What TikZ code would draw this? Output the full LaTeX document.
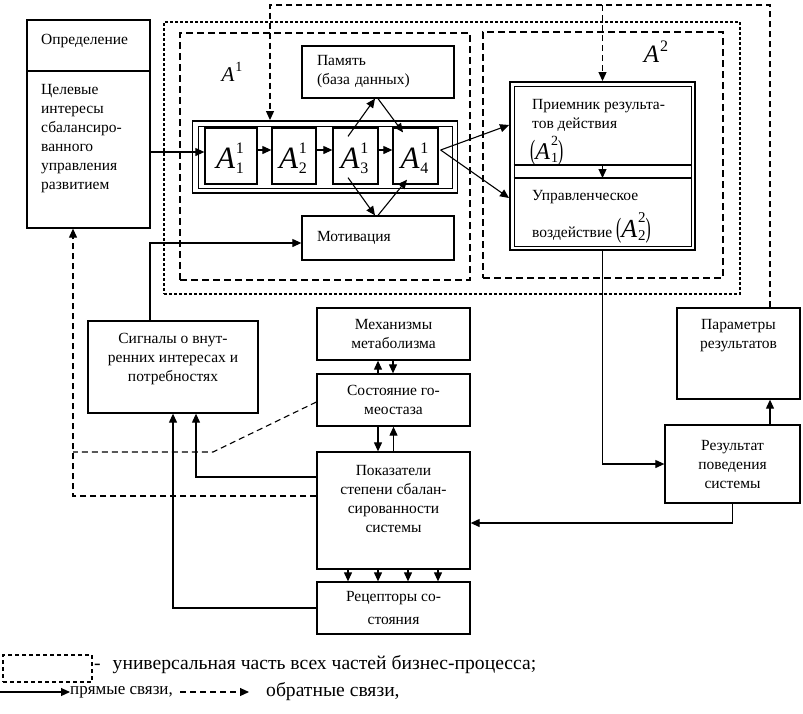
\documentclass[tikz,border=0pt]{standalone}
\usepackage{fontspec}
\usepackage{graphicx}
\setmainfont{Liberation Serif}
\usetikzlibrary{arrows.meta}

\newcommand\boxfont{\fontsize{15.5}{19}\selectfont}
\newcommand\legfont{\fontsize{19.6}{24}\selectfont}
% italic A with a stacked upper and lower index: #1 size of A, #2 size of indices
\newcommand\symA[4]{%
  {\fontsize{#1}{#1}\selectfont\itshape A}\kern1pt%
  \raisebox{-\dimexpr #1pt*14/100\relax}{\fontsize{#2}{#2}\selectfont
    \vbox{\hbox{#3}\kern\dimexpr #1pt*12/100\relax\hbox{#4}}}}
% italic A with an upper index only
\newcommand\supA[3]{%
  {\fontsize{#1}{#1}\selectfont\itshape A}\kern1pt%
  \raisebox{\dimexpr #1pt*45/100\relax}{\fontsize{#2}{#2}\selectfont #3}}
\newcommand\tallparen[1]{\scalebox{1}[1.8]{(}#1\scalebox{1}[1.8]{)}}

\tikzset{
  box/.style={draw, line width=1.3pt, inner sep=0pt, align=center, font=\boxfont},
  txt/.style={inner sep=0pt, align=center, font=\boxfont},
  frameout/.style={draw, line width=1.9pt, inner sep=0pt},
  framein/.style={draw, line width=1pt, inner sep=0pt},
  unipart/.style={draw, line width=1.2pt, dash pattern=on 3pt off 2pt, inner sep=0pt},
  subpart/.style={draw, line width=1.2pt, dash pattern=on 7pt off 4pt, inner sep=0pt},
  fwd/.style={line width=1.1pt, -{Triangle[length=9pt,width=8pt]}},
  fb/.style={line width=1.1pt, dash pattern=on 6pt off 4pt, -{Triangle[length=9pt,width=8pt]}},
  fbline/.style={line width=1.1pt, dash pattern=on 6pt off 4pt},
}

\begin{document}
\begin{tikzpicture}[x=1pt, y=-1pt]
\useasboundingbox (0,0) rectangle (803,713);

% universal part and the two sub-processes
\node[unipart, minimum width=576pt, minimum height=272pt] (uni) at (452,158) {};
\node[subpart, minimum width=290pt, minimum height=247pt] (pA1) at (325,156.5) {};
\node[subpart, minimum width=240pt, minimum height=246pt] (pA2) at (603,155) {};
\node[inner sep=0pt] (labA1) at (232,72) {\supA{21}{14}{1}};
\node[inner sep=0pt] (labA2) at (656,52) {\supA{25}{16}{2}};

% goal box
\node[box, minimum width=123pt, minimum height=51pt] (oprH) at (88.5,45.5) {};
\node[txt, anchor=west] (oprHT) at (41,41) {Определение};
\node[box, minimum width=123pt, minimum height=157pt] (oprB) at (88.5,149.5) {};
\node[txt, anchor=north west, align=left] (oprBT) at (41,84) {Целевые\\интересы\\сбалансиро-\\ванного\\управления\\развитием};

% chain A^1_1 ... A^1_4
\node[frameout, minimum width=265pt, minimum height=72pt] (a1f) at (325,157) {};
\node[framein, minimum width=254pt, minimum height=62pt] (a1fi) at (325,157) {};
\node[box, minimum width=52pt, minimum height=56pt] (a11) at (231,156) {};
\node[box, minimum width=44pt, minimum height=56pt] (a12) at (294,156) {};
\node[box, minimum width=45pt, minimum height=56pt] (a13) at (355.5,156) {};
\node[box, minimum width=45pt, minimum height=56pt] (a14) at (415.5,156) {};
\node[inner sep=0pt] (a11T) at (230,158) {\symA{31}{16}{1}{1}};
\node[inner sep=0pt] (a12T) at (293,158) {\symA{31}{16}{1}{2}};
\node[inner sep=0pt] (a13T) at (354.5,158) {\symA{31}{16}{1}{3}};
\node[inner sep=0pt] (a14T) at (414.5,158) {\symA{31}{16}{1}{4}};

\node[box, minimum width=152pt, minimum height=52pt, text width=122pt, inner xsep=15pt, align=left] (pam) at (378,72) {Память\\(база данных)};
\node[box, minimum width=152pt, minimum height=44pt, text width=122pt, inner xsep=15pt, align=left] (mot) at (378,238) {Мотивация};

% A^2 block
\node[frameout, minimum width=185pt, minimum height=168pt] (a2) at (602.5,166) {};
\node[framein, minimum width=177pt, minimum height=160pt] (a2i) at (602.5,166) {};
\draw[line width=1.2pt] (a2i.west |- 0,165) coordinate (d1w) -- (a2i.east |- 0,165) coordinate (d1e);
\draw[line width=1.2pt] (a2i.west |- 0,178) coordinate (d2w) -- (a2i.east |- 0,178) coordinate (d2e);
\node[txt, anchor=west, align=left] (a2T1) at (532,115) {Приемник результа-\\тов действия};
\node[txt, anchor=west] (a2T2) at (530,151) {\tallparen{\symA{24}{14}{2}{1}}};
\node[txt, anchor=west] (a2T3) at (532,197) {Управленческое};
\node[txt, anchor=west] (a2T4) at (532,228) {воздействие \tallparen{\symA{26}{15}{2}{2}}};

% lower boxes
\node[box, minimum width=170pt, minimum height=92pt] (sig) at (173,367) {};
\node[txt] (sigT) at (173,359.5) {Сигналы о внут-\\ренних интересах и\\потребностях};
\node[box, minimum width=153pt, minimum height=52pt] (mech) at (393.5,334) {Механизмы\\метаболизма};
\node[box, minimum width=153pt, minimum height=52pt] (sost) at (393.5,400) {Состояние го-\\меостаза};
\node[box, minimum width=153pt, minimum height=117pt] (pok) at (393.5,510.5) {};
\node[txt] (pokT) at (393.5,499) {Показатели\\степени сбалан-\\сированности\\системы};
\node[box, minimum width=153pt, minimum height=52pt, font=\fontsize{15.5}{23}\selectfont] (rec) at (393.5,608) {Рецепторы со-\\стояния};
\node[box, minimum width=123pt, minimum height=91pt] (par) at (738.5,353.5) {};
\node[txt] (parT) at (738.5,336) {Параметры\\результатов};
\node[box, minimum width=135pt, minimum height=78pt] (res) at (732.5,464) {Результат\\поведения\\системы};

% direct links inside A^1
\coordinate (a11in) at ([yshift=4pt]a11.west);
\draw[fwd] (oprB.east |- a11in) -- (a11in);
\draw[fwd] ([yshift=6pt]a11.east) -- ([yshift=6pt]a12.west);
\draw[fwd] ([yshift=6pt]a12.east) -- ([yshift=6pt]a13.west);
\draw[fwd] ([yshift=6pt]a13.east) -- ([yshift=6pt]a14.west);
\draw[fwd] ([xshift=-7.5pt,yshift=-9pt]a13.north) -- ([xshift=-3pt]pam.south);
\draw[fwd] (pam.south) -- ([xshift=-12.5pt,yshift=-5pt]a14.north);
\draw[fwd] ([xshift=-7.5pt,yshift=7pt]a13.south) -- ([xshift=-3pt]mot.north);
\draw[fwd] (mot.north) -- ([xshift=-8.5pt,yshift=5pt]a14.south);
\draw[fwd] ([xshift=2pt,yshift=6pt]a14.east) -- ([yshift=41pt]a2.west);
\draw[fwd] ([xshift=2pt,yshift=6pt]a14.east) -- ([yshift=-32pt]a2.west);
\draw[fwd] (d1w -| a2.north) -- (d2w -| a2.north);

% direct links of the lower part
\draw[fwd] (a2.south) |- (res.west);
\draw[fwd] ([xshift=37.5pt]res.north) -- ([xshift=31.5pt]par.south);
\draw[fwd] (res.south) |- ([yshift=-12.5pt]pok.east);
\draw[fwd] ([xshift=-23pt]sig.north) |- ([yshift=-5pt]mot.west);
\draw[fwd] (rec.west) -| (sig.south);
\draw[fwd] ([yshift=33.5pt]pok.west) -| ([xshift=23pt]sig.south);
\draw[fwd] ([xshift=-15.5pt]sost.north) -- ([xshift=-15.5pt]mech.south);
\draw[fwd] ([xshift=-0.5pt]mech.south) -- ([xshift=-0.5pt]sost.north);
\draw[fwd] ([xshift=-15.5pt]sost.south) -- ([xshift=-15.5pt]pok.north);
\draw[fwd] (pok.north) -- (sost.south);
\foreach \dx in {-45.5,-15.5,14.5,44.5}
  \draw[fwd] ([xshift=\dx pt]pok.south) -- ([xshift=\dx pt]rec.north);

% feedback links
\coordinate (fbcorner) at (270,5);
\coordinate (fbjoin) at (602.5,5);
\draw[fb] ([xshift=31.5pt]par.north) |- (fbcorner) -- ([xshift=-55pt]a1f.north);
\draw[fb] (fbjoin) -- (a2.north);
\draw[fb] ([yshift=14.5pt]pok.west) -| ([xshift=-15.5pt]oprB.south);
\coordinate (sbend) at (213,452);
\coordinate (sjoin) at (73,452);
\draw[fbline] ([yshift=-2pt]sost.west) -- (sbend) -- (sjoin);

% legend
\node[draw, line width=1.2pt, dash pattern=on 4pt off 3pt, minimum width=89pt, minimum height=27pt, inner sep=0pt] (legbox) at (47.5,668.5) {};
\node[inner sep=0pt, anchor=west, font=\legfont] (legT1) at (94,665) {-\hspace{12pt}универсальная часть всех частей бизнес-процесса;};
\coordinate (lg1) at (0,692);
\node[inner sep=0pt, anchor=west, font=\fontsize{17}{21}\selectfont] (legT2) at (70,692) {прямые связи,};
\draw[fwd] (lg1) -- (legT2.west);
\coordinate (lg2) at (180,692);
\coordinate (lg3) at (249,692);
\draw[fb] (lg2) -- (lg3);
\node[inner sep=0pt, anchor=west, font=\legfont] (legT3) at (266,692) {обратные связи,};
\end{tikzpicture}
\end{document}
